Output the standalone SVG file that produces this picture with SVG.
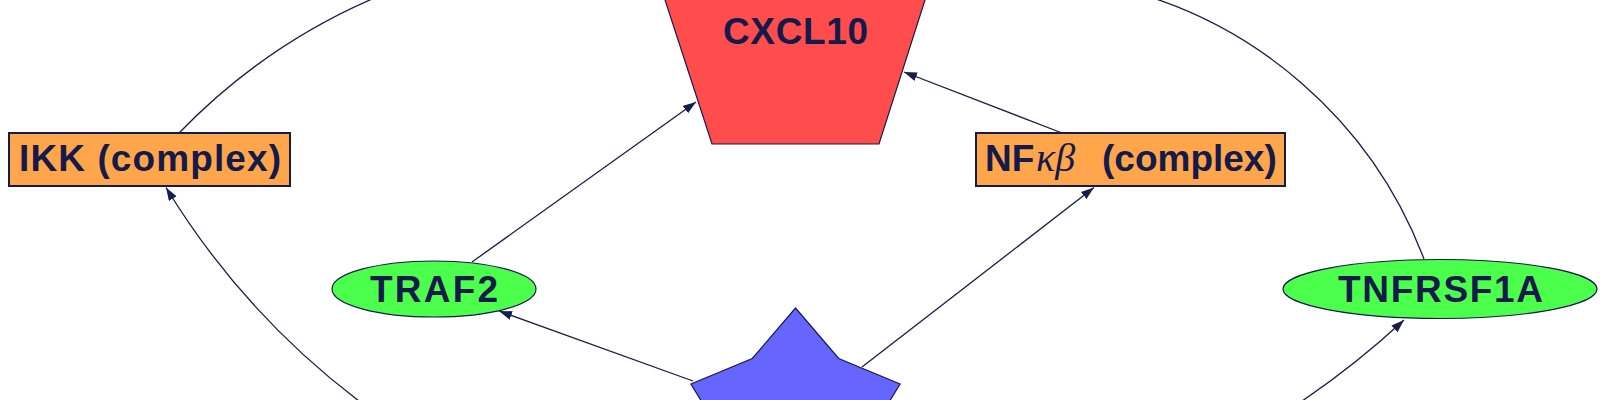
<svg xmlns="http://www.w3.org/2000/svg" width="1600" height="400" viewBox="0 0 1600 400">
<defs>
<style>
.lbl{font-family:"Liberation Sans",Arial,sans-serif;font-weight:bold;font-size:37px;fill:#141a4a}
.greek{font-family:"Liberation Serif","DejaVu Serif",serif;font-style:italic;font-weight:normal;font-size:40px;fill:#141a4a}
.box{fill:#ffa64d;stroke:#141a4a;stroke-width:2}
.ell{fill:#4dff4d;stroke:#141a4a;stroke-width:1.2}
.edge{fill:none;stroke:#161c4e;stroke-width:1.3}
</style>
<marker id="arr" markerUnits="userSpaceOnUse" markerWidth="14" markerHeight="10" refX="13" refY="4.5" orient="auto">
<path d="M0,0 L13,4.5 L0,9 z" fill="#161c4e"/>
</marker>
</defs>
<rect width="1600" height="400" fill="#ffffff"/>
<g id="connectors">
<path class="edge" d="M179,133 A608,608 0 0 1 420,-19.5"/>
<path class="edge" d="M1110,-14 A439,439 0 0 1 1424,259"/>
<path class="edge" d="M378,415 A777,777 0 0 1 166,187.5" marker-end="url(#arr)"/>
<path class="edge" d="M1281,415 Q1348,372 1404,320" marker-end="url(#arr)"/>
<path class="edge" d="M472,262 L696,102" marker-end="url(#arr)"/>
<path class="edge" d="M693,381 L499,311" marker-end="url(#arr)"/>
<path class="edge" d="M862,367 L1094,187.5" marker-end="url(#arr)"/>
<path class="edge" d="M1062,133 L904,72" marker-end="url(#arr)"/>
</g>
<g id="node-CXCL10">
<polygon points="658.5,-20 931.4,-20 879,144 712,144" fill="#ff4d4d" stroke="#141a4a" stroke-width="1.2"/>
<text class="lbl" x="723" y="44" textLength="145" lengthAdjust="spacing">CXCL10</text>
</g>
<g id="node-IKK">
<rect class="box" x="9" y="133" width="281" height="53"/>
<text class="lbl" x="19" y="171" textLength="262" lengthAdjust="spacing">IKK (complex)</text>
</g>
<g id="node-NFkB">
<rect class="box" x="976" y="133" width="309" height="53"/>
<text class="lbl" y="171"><tspan x="985">NF</tspan><tspan class="greek" x="1036">κβ</tspan><tspan x="1102">(complex)</tspan></text>
</g>
<g id="node-TRAF2">
<ellipse class="ell" cx="434" cy="289" rx="102" ry="28"/>
<text class="lbl" x="370" y="302" textLength="128" lengthAdjust="spacing">TRAF2</text>
</g>
<g id="node-TNFRSF1A">
<ellipse class="ell" cx="1440" cy="289" rx="157" ry="29.5"/>
<text class="lbl" x="1338" y="302" textLength="205" lengthAdjust="spacing">TNFRSF1A</text>
</g>
<g id="node-star">
<polygon points="795.5,308 838.7,358.5 900.1,384 865.4,440.7 860.2,507 795.5,491.5 730.8,507 725.6,440.7 690.9,384 752.3,358.5" fill="#6666ff" stroke="#141a4a" stroke-width="1.2"/>
</g>
</svg>
